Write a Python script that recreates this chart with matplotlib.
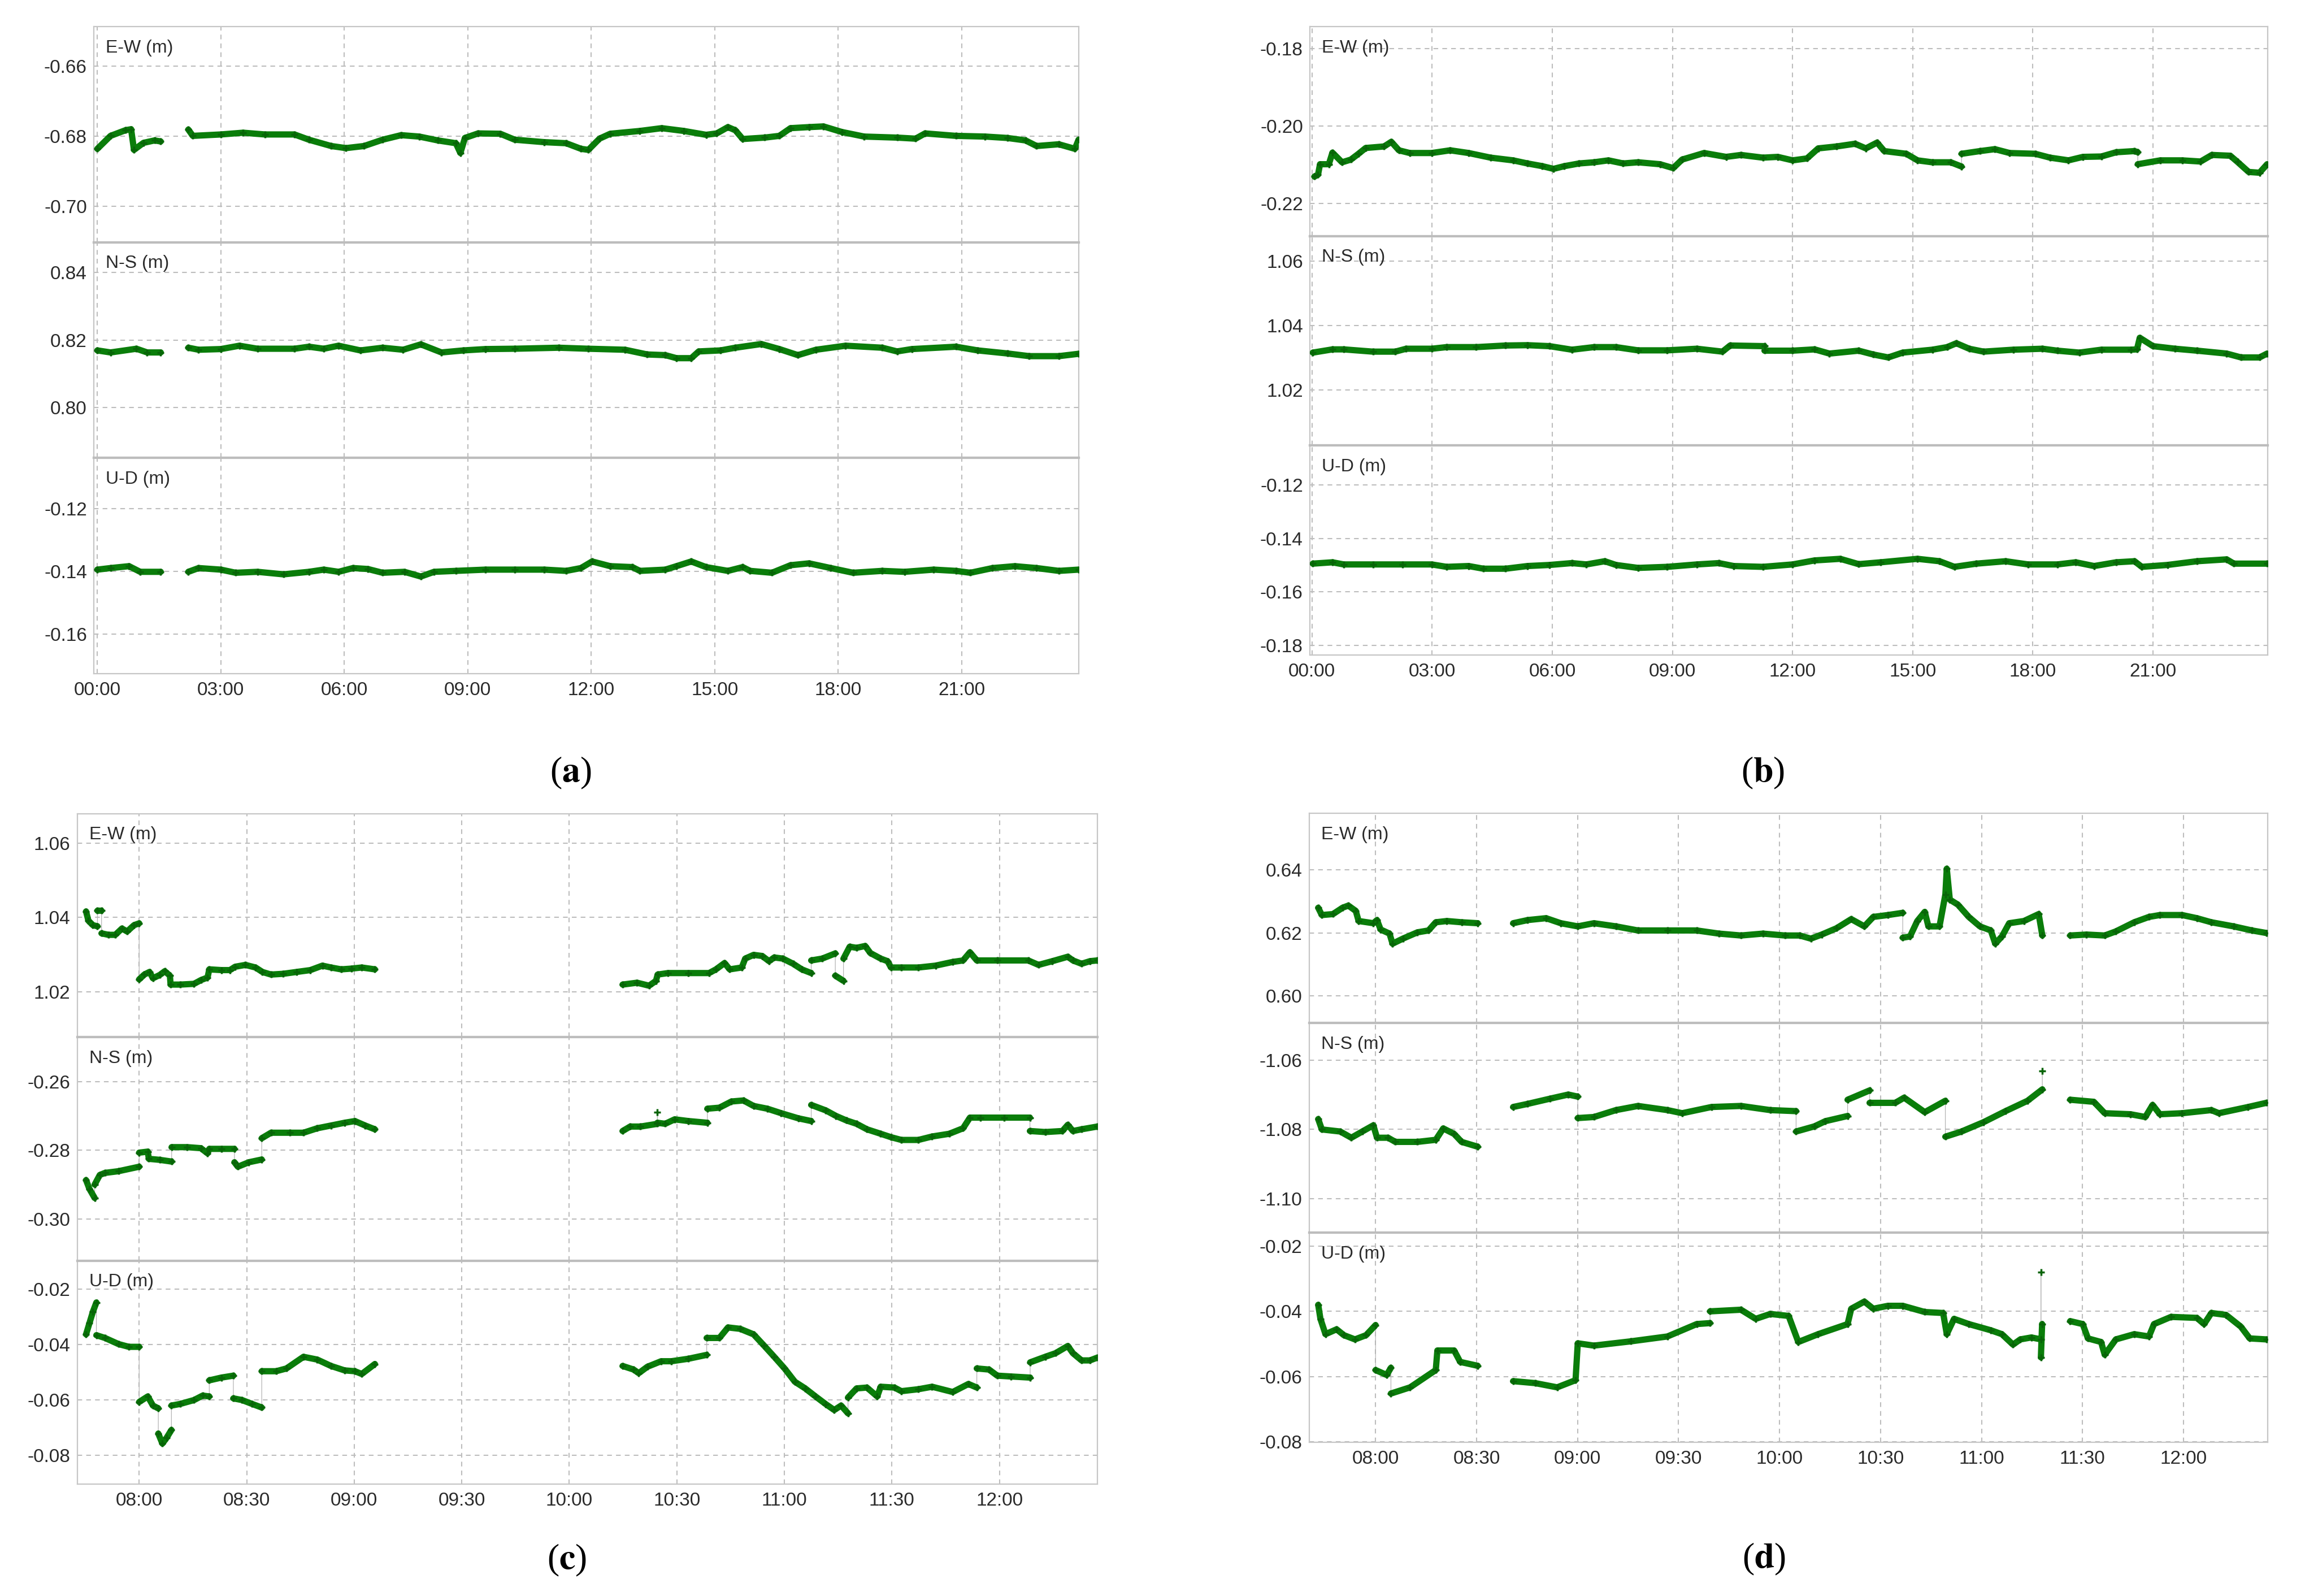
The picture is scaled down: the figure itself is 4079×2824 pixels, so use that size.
import numpy as np
import matplotlib
matplotlib.use("Agg")
import matplotlib.pyplot as plt

# ---------------- DATA (hours, metres) ----------------
# None marks a break in the record; a repeated time marks a jump
A_EW = [(0.00, -0.6836), (0.32, -0.6799), (0.68, -0.6783), (0.82, -0.6780), (0.89, -0.6839),
        (1.12, -0.6819), (1.39, -0.6812), (1.54, -0.6815), None,
        (2.21, -0.6781), (2.32, -0.6799), (3.00, -0.6795), (3.54, -0.6790), (4.07, -0.6795),
        (4.79, -0.6795), (5.14, -0.6810), (5.68, -0.6828), (6.04, -0.6834), (6.48, -0.6828),
        (6.93, -0.6810), (7.38, -0.6797), (7.82, -0.6801), (8.27, -0.6812), (8.71, -0.6820),
        (8.82, -0.6848), (8.93, -0.6805), (9.25, -0.6792), (9.79, -0.6793), (10.14, -0.6810),
        (10.86, -0.6817), (11.39, -0.6820), (11.75, -0.6836), (11.93, -0.6839), (12.20, -0.6807),
        (12.46, -0.6793), (13.18, -0.6785), (13.71, -0.6777), (14.25, -0.6785), (14.79, -0.6796),
        (15.05, -0.6792), (15.32, -0.6774), (15.50, -0.6783), (15.68, -0.6808), (16.21, -0.6804),
        (16.57, -0.6799), (16.84, -0.6777), (17.29, -0.6774), (17.64, -0.6772), (18.09, -0.6788),
        (18.63, -0.6801), (19.43, -0.6804), (19.88, -0.6807), (20.11, -0.6792), (20.86, -0.6799),
        (21.57, -0.6801), (22.11, -0.6805), (22.55, -0.6812), (22.82, -0.6828), (23.36, -0.6823),
        (23.75, -0.6836), (23.84, -0.6810)]
A_NS = [(0.00, 0.8169), (0.32, 0.8163), (0.95, 0.8174), (1.21, 0.8163), (1.54, 0.8163), None,
        (2.21, 0.8177), (2.46, 0.8171), (3.00, 0.8173), (3.45, 0.8183), (3.89, 0.8174),
        (4.79, 0.8174), (5.14, 0.8180), (5.50, 0.8174), (5.86, 0.8183), (6.39, 0.8169),
        (6.93, 0.8177), (7.43, 0.8171), (7.86, 0.8187), (8.36, 0.8163), (8.89, 0.8169),
        (9.43, 0.8173), (10.14, 0.8174), (11.21, 0.8177), (11.93, 0.8174), (12.82, 0.8171),
        (13.36, 0.8157), (13.80, 0.8155), (14.07, 0.8146), (14.43, 0.8146), (14.61, 0.8166),
        (15.14, 0.8169), (15.50, 0.8177), (16.13, 0.8188), (16.57, 0.8173), (17.02, 0.8155),
        (17.46, 0.8171), (18.18, 0.8183), (19.07, 0.8177), (19.43, 0.8166), (19.79, 0.8173),
        (20.86, 0.8180), (21.39, 0.8169), (22.11, 0.8160), (22.64, 0.8152), (23.36, 0.8152),
        (23.84, 0.8159)]
A_UD = [(0.00, -0.1395), (0.32, -0.1390), (0.77, -0.1384), (1.04, -0.1402), (1.54, -0.1402), None,
        (2.21, -0.1402), (2.46, -0.1390), (3.00, -0.1395), (3.36, -0.1405), (3.89, -0.1402),
        (4.52, -0.1410), (5.14, -0.1402), (5.50, -0.1395), (5.86, -0.1402), (6.21, -0.1390),
        (6.57, -0.1393), (6.93, -0.1405), (7.46, -0.1402), (7.86, -0.1417), (8.18, -0.1402),
        (8.71, -0.1399), (9.43, -0.1395), (10.14, -0.1395), (10.86, -0.1395), (11.39, -0.1399),
        (11.75, -0.1390), (12.02, -0.1369), (12.46, -0.1384), (13.00, -0.1387), (13.18, -0.1399),
        (13.80, -0.1395), (14.07, -0.1384), (14.43, -0.1369), (14.79, -0.1387), (15.32, -0.1399),
        (15.68, -0.1387), (15.86, -0.1399), (16.39, -0.1405), (16.84, -0.1381), (17.29, -0.1375),
        (17.82, -0.1390), (18.36, -0.1405), (19.07, -0.1399), (19.61, -0.1402), (20.32, -0.1395),
        (20.86, -0.1399), (21.21, -0.1405), (21.75, -0.1390), (22.29, -0.1384), (22.82, -0.1390),
        (23.36, -0.1399), (23.84, -0.1395)]

B_EW = [(0.06, -0.2131), (0.15, -0.2126), (0.20, -0.2099), (0.42, -0.2099), (0.51, -0.2069),
        (0.75, -0.2094), (0.97, -0.2087), (1.16, -0.2072), (1.34, -0.2057), (1.80, -0.2053),
        (1.98, -0.2041), (2.17, -0.2063), (2.44, -0.2070), (2.99, -0.2070), (3.45, -0.2063),
        (3.91, -0.2070), (4.46, -0.2082), (5.02, -0.2089), (5.38, -0.2097), (5.75, -0.2104),
        (6.03, -0.2111), (6.30, -0.2104), (6.67, -0.2097), (7.04, -0.2094), (7.40, -0.2089),
        (7.77, -0.2097), (8.14, -0.2094), (8.69, -0.2099), (9.02, -0.2109), (9.24, -0.2087),
        (9.79, -0.2070), (10.34, -0.2080), (10.71, -0.2075), (11.26, -0.2082), (11.63, -0.2080),
        (12.00, -0.2089), (12.36, -0.2084), (12.64, -0.2058), (13.10, -0.2053), (13.56, -0.2046),
        (13.83, -0.2058), (14.11, -0.2043), (14.29, -0.2065), (14.84, -0.2072), (15.12, -0.2089),
        (15.49, -0.2094), (15.95, -0.2094), (16.22, -0.2105), (16.22, -0.2072), (16.68, -0.2065),
        (17.05, -0.2060), (17.42, -0.2070), (18.06, -0.2072), (18.43, -0.2082), (18.89, -0.2089),
        (19.25, -0.2080), (19.71, -0.2079), (20.08, -0.2068), (20.54, -0.2065), (20.62, -0.2068),
        (20.62, -0.2099), (21.18, -0.2089), (21.73, -0.2089), (22.19, -0.2092), (22.47, -0.2075),
        (22.93, -0.2077), (23.11, -0.2093), (23.39, -0.2119), (23.66, -0.2121), (23.85, -0.2099)]
B_NS = [(0.02, 1.0316), (0.51, 1.0326), (0.79, 1.0326), (1.52, 1.0319), (2.08, 1.0319),
        (2.35, 1.0328), (2.99, 1.0328), (3.36, 1.0333), (4.10, 1.0333), (4.83, 1.0338),
        (5.38, 1.0339), (5.93, 1.0336), (6.49, 1.0325), (7.04, 1.0333), (7.59, 1.0333),
        (8.14, 1.0323), (8.87, 1.0323), (9.61, 1.0328), (10.25, 1.0319), (10.44, 1.0338),
        (11.30, 1.0336), (11.30, 1.0322), (12.00, 1.0322), (12.55, 1.0326), (12.92, 1.0313),
        (13.65, 1.0322), (14.02, 1.0310), (14.39, 1.0301), (14.75, 1.0316), (15.49, 1.0325),
        (15.86, 1.0333), (16.09, 1.0345), (16.41, 1.0328), (16.77, 1.0319), (17.51, 1.0325),
        (18.24, 1.0328), (18.61, 1.0322), (19.16, 1.0316), (19.71, 1.0325), (20.45, 1.0325),
        (20.60, 1.0326), (20.67, 1.0362), (21.00, 1.0336), (21.55, 1.0328), (22.10, 1.0322),
        (22.84, 1.0313), (23.20, 1.0301), (23.66, 1.0301), (23.85, 1.0313)]
B_UD = [(0.02, -0.1494), (0.51, -0.1489), (0.79, -0.1497), (1.52, -0.1497), (2.26, -0.1497),
        (2.99, -0.1497), (3.36, -0.1506), (3.91, -0.1503), (4.28, -0.1513), (4.83, -0.1513),
        (5.38, -0.1503), (5.93, -0.1499), (6.49, -0.1492), (6.85, -0.1497), (7.31, -0.1485),
        (7.59, -0.1499), (8.14, -0.1510), (8.87, -0.1506), (9.61, -0.1497), (10.16, -0.1492),
        (10.53, -0.1503), (11.26, -0.1506), (12.00, -0.1497), (12.55, -0.1482), (13.19, -0.1476),
        (13.65, -0.1496), (14.20, -0.1489), (15.12, -0.1476), (15.67, -0.1485), (16.04, -0.1506),
        (16.59, -0.1494), (17.32, -0.1485), (17.88, -0.1497), (18.61, -0.1497), (19.07, -0.1489),
        (19.53, -0.1503), (20.08, -0.1489), (20.54, -0.1485), (20.72, -0.1506), (21.36, -0.1499),
        (22.10, -0.1485), (22.84, -0.1478), (23.02, -0.1494), (23.85, -0.1494)]

C_EW = [(7.753, 1.0416), (7.764, 1.0391), (7.785, 1.0379), (7.806, 1.0376), (7.806, 1.0418),
        (7.825, 1.0418), (7.825, 1.0357), (7.857, 1.0353), (7.889, 1.0353), (7.920, 1.0370),
        (7.944, 1.0362), (7.976, 1.0379), (8.000, 1.0384), (8.000, 1.0233), (8.024, 1.0246),
        (8.048, 1.0253), (8.064, 1.0236), (8.096, 1.0245), (8.119, 1.0255), (8.143, 1.0243),
        (8.146, 1.0219), (8.191, 1.0219), (8.255, 1.0221), (8.287, 1.0231), (8.318, 1.0238),
        (8.326, 1.0260), (8.382, 1.0258), (8.422, 1.0258), (8.446, 1.0267), (8.494, 1.0272),
        (8.541, 1.0265), (8.573, 1.0253), (8.613, 1.0246), (8.669, 1.0248), (8.732, 1.0253),
        (8.796, 1.0258), (8.852, 1.0270), (8.892, 1.0265), (8.939, 1.0260), (8.987, 1.0262),
        (9.035, 1.0265), (9.096, 1.0260), None,
        (10.248, 1.0219), (10.315, 1.0224), (10.371, 1.0216), (10.403, 1.0229), (10.411, 1.0246),
        (10.459, 1.0250), (10.554, 1.0250), (10.650, 1.0250), (10.682, 1.0260), (10.722, 1.0277),
        (10.746, 1.0260), (10.802, 1.0265), (10.818, 1.0289), (10.857, 1.0299), (10.897, 1.0296),
        (10.929, 1.0282), (10.953, 1.0292), (10.993, 1.0289), (11.041, 1.0275), (11.081, 1.0260),
        (11.125, 1.0250), (11.125, 1.0284), (11.176, 1.0289), (11.237, 1.0303), (11.237, 1.0243),
        (11.275, 1.0229), (11.275, 1.0289), (11.304, 1.0321), (11.336, 1.0318), (11.376, 1.0323),
        (11.400, 1.0304), (11.448, 1.0289), (11.480, 1.0282), (11.496, 1.0265), (11.544, 1.0265),
        (11.623, 1.0265), (11.703, 1.0270), (11.783, 1.0280), (11.831, 1.0284), (11.863, 1.0306),
        (11.895, 1.0284), (11.990, 1.0284), (12.134, 1.0284), (12.182, 1.0272), (12.246, 1.0282),
        (12.318, 1.0294), (12.342, 1.0284), (12.382, 1.0275), (12.421, 1.0282), (12.455, 1.0284)]
C_NS = [(7.753, -0.2887), (7.769, -0.2913), (7.793, -0.2939), (7.793, -0.2900), (7.817, -0.2872),
        (7.841, -0.2866), (7.904, -0.2861), (8.000, -0.2848), (8.000, -0.2807), (8.040, -0.2804),
        (8.045, -0.2825), (8.096, -0.2828), (8.151, -0.2833), (8.151, -0.2791), (8.223, -0.2791),
        (8.287, -0.2794), (8.318, -0.2809), (8.326, -0.2796), (8.382, -0.2796), (8.443, -0.2796),
        (8.443, -0.2835), (8.459, -0.2848), (8.510, -0.2835), (8.570, -0.2827), (8.570, -0.2765),
        (8.613, -0.2749), (8.701, -0.2749), (8.764, -0.2749), (8.828, -0.2736), (8.892, -0.2728),
        (8.955, -0.2720), (9.003, -0.2715), (9.051, -0.2728), (9.096, -0.2739), None,
        (10.248, -0.2744), (10.283, -0.2731), (10.331, -0.2731), (10.410, -0.2723), (10.410, -0.2689),
        (10.410, -0.2720), (10.446, -0.2723), (10.490, -0.2710), (10.554, -0.2715), (10.642, -0.2720),
        (10.642, -0.2679), (10.698, -0.2676), (10.754, -0.2658), (10.810, -0.2655), (10.857, -0.2671),
        (10.921, -0.2679), (10.985, -0.2692), (11.065, -0.2707), (11.125, -0.2715), (11.125, -0.2668),
        (11.193, -0.2684), (11.240, -0.2700), (11.288, -0.2713), (11.336, -0.2723), (11.384, -0.2739),
        (11.448, -0.2752), (11.496, -0.2762), (11.544, -0.2770), (11.623, -0.2770), (11.687, -0.2760),
        (11.767, -0.2752), (11.831, -0.2736), (11.863, -0.2705), (11.911, -0.2705), (12.022, -0.2705),
        (12.142, -0.2705), (12.142, -0.2744), (12.213, -0.2747), (12.293, -0.2744), (12.318, -0.2726),
        (12.342, -0.2744), (12.382, -0.2739), (12.455, -0.2731)]
C_UD = [(7.753, -0.0363), (7.769, -0.0322), (7.785, -0.0281), (7.801, -0.0248), (7.801, -0.0366),
        (7.841, -0.0376), (7.904, -0.0398), (7.952, -0.0408), (8.000, -0.0408), (8.000, -0.0607),
        (8.040, -0.0587), (8.064, -0.0620), (8.089, -0.0630), (8.089, -0.0721), (8.108, -0.0757),
        (8.127, -0.0737), (8.150, -0.0708), (8.150, -0.0620), (8.191, -0.0614), (8.255, -0.0600),
        (8.295, -0.0584), (8.326, -0.0587), (8.326, -0.0529), (8.382, -0.0519), (8.438, -0.0512),
        (8.438, -0.0594), (8.478, -0.0600), (8.525, -0.0614), (8.570, -0.0627), (8.570, -0.0496),
        (8.637, -0.0496), (8.685, -0.0486), (8.764, -0.0444), (8.828, -0.0454), (8.892, -0.0477),
        (8.955, -0.0493), (9.003, -0.0496), (9.035, -0.0506), (9.096, -0.0470), None,
        (10.248, -0.0477), (10.299, -0.0490), (10.323, -0.0503), (10.363, -0.0480), (10.427, -0.0460),
        (10.475, -0.0460), (10.554, -0.0451), (10.639, -0.0437), (10.639, -0.0376), (10.698, -0.0376),
        (10.738, -0.0338), (10.794, -0.0343), (10.857, -0.0363), (10.905, -0.0403), (10.953, -0.0444),
        (11.001, -0.0486), (11.049, -0.0534), (11.097, -0.0558), (11.145, -0.0587), (11.193, -0.0615),
        (11.232, -0.0636), (11.264, -0.0620), (11.296, -0.0648), (11.296, -0.0591), (11.336, -0.0558),
        (11.384, -0.0555), (11.432, -0.0587), (11.448, -0.0552), (11.512, -0.0555), (11.544, -0.0568),
        (11.623, -0.0561), (11.687, -0.0552), (11.783, -0.0571), (11.856, -0.0542), (11.895, -0.0555),
        (11.895, -0.0486), (11.952, -0.0490), (11.990, -0.0512), (12.054, -0.0515), (12.143, -0.0519),
        (12.143, -0.0464), (12.213, -0.0444), (12.261, -0.0431), (12.318, -0.0405), (12.342, -0.0431),
        (12.382, -0.0457), (12.421, -0.0457), (12.455, -0.0447)]

D_EW = [(7.716, 0.6280), (7.734, 0.6257), (7.789, 0.6260), (7.836, 0.6280), (7.865, 0.6287),
        (7.902, 0.6270), (7.916, 0.6238), (7.989, 0.6231), (8.007, 0.6241), (8.025, 0.6211),
        (8.069, 0.6198), (8.084, 0.6166), (8.135, 0.6182), (8.207, 0.6202), (8.262, 0.6208),
        (8.298, 0.6234), (8.353, 0.6238), (8.426, 0.6234), (8.506, 0.6231), None,
        (8.681, 0.6231), (8.753, 0.6241), (8.844, 0.6247), (8.917, 0.6231), (9.001, 0.6221),
        (9.081, 0.6231), (9.190, 0.6221), (9.299, 0.6208), (9.445, 0.6208), (9.590, 0.6208),
        (9.700, 0.6198), (9.809, 0.6192), (9.918, 0.6198), (10.027, 0.6192), (10.100, 0.6192),
        (10.155, 0.6182), (10.209, 0.6195), (10.282, 0.6215), (10.355, 0.6244), (10.420, 0.6221),
        (10.464, 0.6251), (10.537, 0.6257), (10.610, 0.6264), (10.610, 0.6185), (10.646, 0.6189),
        (10.682, 0.6238), (10.719, 0.6267), (10.737, 0.6221), (10.792, 0.6221), (10.821, 0.6322),
        (10.828, 0.6404), (10.843, 0.6306), (10.883, 0.6290), (10.937, 0.6251), (10.992, 0.6221),
        (11.046, 0.6208), (11.068, 0.6166), (11.101, 0.6189), (11.137, 0.6231), (11.210, 0.6238),
        (11.283, 0.6260), (11.301, 0.6192), None,
        (11.439, 0.6192), (11.520, 0.6195), (11.610, 0.6192), (11.665, 0.6205), (11.756, 0.6234),
        (11.829, 0.6251), (11.883, 0.6257), (11.993, 0.6257), (12.066, 0.6247), (12.138, 0.6234),
        (12.248, 0.6221), (12.339, 0.6208), (12.410, 0.6200)]
D_NS = [(7.716, -1.0770), (7.734, -1.0800), (7.825, -1.0806), (7.880, -1.0824), (7.934, -1.0806),
        (7.989, -1.0788), (8.007, -1.0824), (8.062, -1.0824), (8.098, -1.0836), (8.207, -1.0836),
        (8.298, -1.0830), (8.335, -1.0797), (8.389, -1.0813), (8.426, -1.0836), (8.506, -1.0850), None,
        (8.681, -1.0735), (8.753, -1.0726), (8.863, -1.0711), (8.954, -1.0699), (9.001, -1.0705),
        (9.001, -1.0767), (9.081, -1.0764), (9.190, -1.0744), (9.299, -1.0732), (9.445, -1.0744),
        (9.518, -1.0753), (9.663, -1.0735), (9.809, -1.0732), (9.954, -1.0744), (10.082, -1.0747),
        (10.082, -1.0806), (10.173, -1.0791), (10.227, -1.0776), (10.337, -1.0761), (10.337, -1.0714),
        (10.446, -1.0687), (10.446, -1.0723), (10.573, -1.0723), (10.617, -1.0708), (10.719, -1.0750),
        (10.821, -1.0717), (10.821, -1.0821), (10.901, -1.0806), (11.010, -1.0779), (11.119, -1.0747),
        (11.228, -1.0717), (11.301, -1.0684), (11.301, -1.0631), None,
        (11.439, -1.0714), (11.556, -1.0720), (11.610, -1.0753), (11.738, -1.0756), (11.811, -1.0764),
        (11.847, -1.0729), (11.883, -1.0756), (11.993, -1.0753), (12.138, -1.0744), (12.175, -1.0753),
        (12.320, -1.0735), (12.410, -1.0723)]
D_UD = [(7.716, -0.0380), (7.727, -0.0423), (7.752, -0.0470), (7.807, -0.0455), (7.843, -0.0473),
        (7.898, -0.0486), (7.953, -0.0473), (8.000, -0.0442), (8.000, -0.0580), (8.055, -0.0595),
        (8.076, -0.0573), (8.076, -0.0652), (8.171, -0.0633), (8.298, -0.0580), (8.306, -0.0520),
        (8.389, -0.0520), (8.419, -0.0555), (8.506, -0.0567), None,
        (8.681, -0.0614), (8.790, -0.0620), (8.899, -0.0633), (8.990, -0.0611), (9.001, -0.0498),
        (9.081, -0.0505), (9.263, -0.0492), (9.445, -0.0477), (9.590, -0.0439), (9.656, -0.0436),
        (9.656, -0.0400), (9.809, -0.0395), (9.882, -0.0423), (9.954, -0.0408), (10.045, -0.0414),
        (10.093, -0.0494), (10.191, -0.0470), (10.337, -0.0439), (10.355, -0.0392), (10.420, -0.0370),
        (10.464, -0.0392), (10.537, -0.0383), (10.610, -0.0383), (10.719, -0.0402), (10.810, -0.0405),
        (10.828, -0.0470), (10.864, -0.0423), (10.937, -0.0439), (11.046, -0.0458), (11.101, -0.0470),
        (11.156, -0.0502), (11.192, -0.0486), (11.247, -0.0480), (11.294, -0.0486), (11.294, -0.0280),
        (11.294, -0.0541), (11.300, -0.0439), None,
        (11.439, -0.0430), (11.501, -0.0439), (11.527, -0.0483), (11.592, -0.0494), (11.610, -0.0533),
        (11.665, -0.0486), (11.756, -0.0470), (11.829, -0.0477), (11.854, -0.0439), (11.938, -0.0417),
        (12.066, -0.0420), (12.102, -0.0439), (12.138, -0.0405), (12.211, -0.0411), (12.284, -0.0447),
        (12.328, -0.0483), (12.410, -0.0486)]

COMPONENTS = ["E-W (m)", "N-S (m)", "U-D (m)"]
DAY_TICKS = [0, 3, 6, 9, 12, 15, 18, 21]
DAY_LABELS = ["00:00", "03:00", "06:00", "09:00", "12:00", "15:00", "18:00", "21:00"]
SESSION_TICKS = [8.0, 8.5, 9.0, 9.5, 10.0, 10.5, 11.0, 11.5, 12.0]
SESSION_LABELS = ["08:00", "08:30", "09:00", "09:30", "10:00", "10:30", "11:00", "11:30", "12:00"]

# ---------------- STYLE ----------------
GREEN = "#0a7d0a"
DARK = "#086408"
GREY = "#b4b4b4"
GRID = "#bdbdbd"
BORDER = "#c6c6c6"
SEP = "#bdbdbd"

plt.rcParams["font.family"] = ["Liberation Sans", "DejaVu Sans"]
plt.rcParams["mathtext.fontset"] = "stix"

PANELS = [
    dict(series=[A_EW, A_NS, A_UD], rect=(0.0408, 0.578, 0.468, 0.9833),
         xlim=(-0.08, 23.85), xt=DAY_TICKS, xl=DAY_LABELS,
         ylims=[(-0.7103, -0.6487), (0.785, 0.849), (-0.1726, -0.1039)],
         yticks=[[-0.70, -0.68, -0.66], [0.80, 0.82, 0.84], [-0.16, -0.14, -0.12]],
         tag="a", tagpos=(0.2474, 0.5156)),
    dict(series=[B_EW, B_NS, B_UD], rect=(0.5682, 0.5896, 0.9835, 0.9833),
         xlim=(-0.05, 23.86), xt=DAY_TICKS, xl=DAY_LABELS,
         ylims=[(-0.2285, -0.1743), (1.0028, 1.0677), (-0.1836, -0.1052)],
         yticks=[[-0.22, -0.20, -0.18], [1.02, 1.04, 1.06], [-0.18, -0.16, -0.14, -0.12]],
         tag="b", tagpos=(0.7645, 0.5156)),
    dict(series=[C_EW, C_NS, C_UD], rect=(0.0335, 0.070, 0.4761, 0.4901),
         xlim=(7.712, 12.457), xt=SESSION_TICKS, xl=SESSION_LABELS,
         ylims=[(1.0077, 1.0679), (-0.3122, -0.2471), (-0.0904, -0.00975)],
         yticks=[[1.02, 1.04, 1.06], [-0.30, -0.28, -0.26], [-0.08, -0.06, -0.04, -0.02]],
         tag="c", tagpos=(0.2458, 0.0225)),
    dict(series=[D_EW, D_NS, D_UD], rect=(0.5679, 0.0962, 0.9835, 0.4904),
         xlim=(7.672, 12.416), xt=SESSION_TICKS, xl=SESSION_LABELS,
         ylims=[(0.5914, 0.658), (-1.1099, -1.0492), (-0.0802, -0.0159)],
         yticks=[[0.60, 0.62, 0.64], [-1.10, -1.08, -1.06], [-0.08, -0.06, -0.04, -0.02]],
         tag="d", tagpos=(0.7652, 0.0232)),
]


def draw_series(ax, pts):
    t = np.array([np.nan if p is None else p[0] for p in pts], float)
    v = np.array([np.nan if p is None else p[1] for p in pts], float)
    # thin connectors (visible at jumps)
    ax.plot(t, v, color=GREY, lw=0.9, zorder=2)
    # thick band, broken where the time repeats (a jump)
    tb, vb = [], []
    for i in range(len(t)):
        if i > 0 and t[i] == t[i - 1]:
            tb.append(np.nan)
            vb.append(np.nan)
        tb.append(t[i])
        vb.append(v[i])
    ax.plot(tb, vb, color=GREEN, lw=8, solid_capstyle="round",
            solid_joinstyle="round", zorder=3)
    ax.plot(t, v, ls="none", marker="+", ms=8, mew=2.5, color=DARK, zorder=4)


def fmt(val):
    return f"{val:.2f}".replace("-0.00", "0.00")


fig = plt.figure(figsize=(40.8, 28.24), dpi=100)

for p in PANELS:
    left, bottom, right, top = p["rect"]
    h = (top - bottom) / 3.0
    for k in range(3):
        ax = fig.add_axes([left, top - (k + 1) * h, right - left, h])
        draw_series(ax, p["series"][k])
        ax.set_xlim(*p["xlim"])
        ax.set_ylim(*p["ylims"][k])
        ax.set_xticks(p["xt"])
        ax.set_yticks(p["yticks"][k])
        ax.set_yticklabels([fmt(y) for y in p["yticks"][k]])
        ax.grid(True, color=GRID, lw=1.5, ls=(0, (4, 3.5)), zorder=0)
        ax.set_axisbelow(True)
        ax.tick_params(length=0, labelsize=24, labelcolor="#2a2a2a")
        ax.tick_params(axis="y", pad=9)
        ax.tick_params(axis="x", pad=10)
        for s in ax.spines.values():
            s.set_color(BORDER)
            s.set_linewidth(1.6)
        if k > 0:
            ax.spines["top"].set_color(SEP)
            ax.spines["top"].set_linewidth(3.0)
        if k < 2:
            ax.spines["bottom"].set_color(SEP)
            ax.spines["bottom"].set_linewidth(3.0)
            ax.set_xticklabels([])
        else:
            ax.set_xticklabels(p["xl"])
        ax.annotate(COMPONENTS[k], xy=(0, 1), xycoords="axes fraction",
                    xytext=(15, -27), textcoords="offset points",
                    ha="left", va="center", fontsize=23, color="#2a2a2a")
    fig.text(p["tagpos"][0], p["tagpos"][1], r"($\mathbf{" + p["tag"] + r"}$)",
             ha="center", va="center", fontsize=46, family="Liberation Serif")

fig.savefig("out.png", dpi=100, facecolor="white")
